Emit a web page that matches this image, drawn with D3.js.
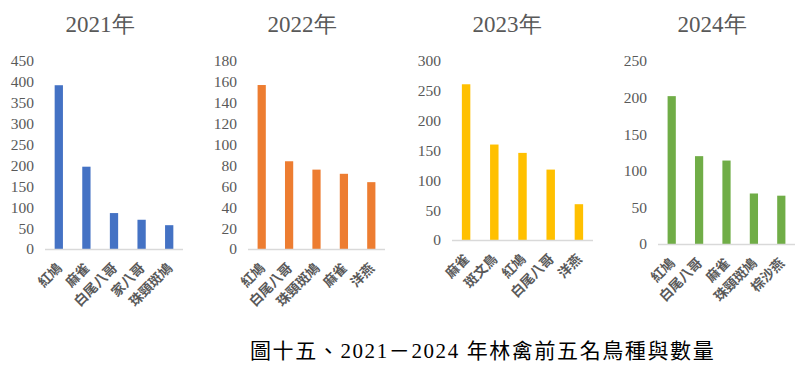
<!DOCTYPE html>
<html lang="zh-Hant">
<head>
<meta charset="UTF-8" />
<script src="https://d3js.org/d3.v7.min.js"></script>
<title>林禽前五名鳥種與數量</title>
<style>
  body { margin: 0; background: #fff; }
  svg text.num { font-family: "Liberation Serif", "DejaVu Serif", serif; fill: #595959; }
  svg text.cat { font-family: "Noto Sans CJK TC", sans-serif; font-weight: 700; fill: #595959; }
  svg text.cap { font-family: "Liberation Serif", "Noto Sans CJK TC", serif; fill: #000; }
</style>
</head>
<body>
<script>
const width = 800;
const height = 373;

// data
const years = ["2021年", "2022年", "2023年", "2024年"];

const birds2021 = ["紅鳩", "麻雀", "白尾八哥", "家八哥", "珠頸斑鳩"];
const count2021 = [392, 197, 86, 70, 57];

const birds2022 = ["紅鳩", "白尾八哥", "珠頸斑鳩", "麻雀", "洋燕"];
const count2022 = [157, 84, 76, 72, 64];

const birds2023 = ["麻雀", "斑文鳥", "紅鳩", "白尾八哥", "洋燕"];
const count2023 = [261, 160, 146, 118, 60];

const birds2024 = ["紅鳩", "白尾八哥", "麻雀", "珠頸斑鳩", "棕沙燕"];
const count2024 = [202, 120, 114, 69, 66];

const yMax = [450, 180, 300, 250];
const yStep = [50, 20, 50, 50];
const colors = ["#4472C4", "#ED7D31", "#FFC000", "#70AD47"];

const caption = "圖十五、2021－2024 年林禽前五名鳥種與數量";

// layout of the four small charts
const panels = [
  { x0: 45, x1: 183, top: 61, base: 249, titleX: 100 },
  { x0: 248, x1: 385, top: 61, base: 249, titleX: 302 },
  { x0: 452, x1: 593, top: 61, base: 240, titleX: 507 },
  { x0: 658, x1: 795, top: 61, base: 244, titleX: 712 }
];

const allBirds = [birds2021, birds2022, birds2023, birds2024];
const allCounts = [count2021, count2022, count2023, count2024];

const svg = d3.select("body").append("svg")
  .attr("width", width)
  .attr("height", height);

panels.forEach((p, k) => {
  const data = allBirds[k].map((b, i) => ({ name: b, value: allCounts[k][i] }));

  const x = d3.scaleBand()
    .domain(allBirds[k])
    .range([p.x0, p.x1])
    .paddingInner(0.7)
    .paddingOuter(0.35);

  const y = d3.scaleLinear()
    .domain([0, yMax[k]])
    .range([p.base, p.top]);

  const g = svg.append("g");

  // title
  g.append("text")
    .attr("class", "num")
    .attr("x", p.titleX)
    .attr("y", 32)
    .attr("text-anchor", "middle")
    .style("font-size", "23px")
    .text(years[k]);

  // y axis, labels only
  const yAxis = d3.axisLeft(y)
    .tickValues(d3.range(0, yMax[k] + 1, yStep[k]))
    .tickSize(0)
    .tickPadding(0);

  const ax = g.append("g")
    .attr("transform", `translate(${p.x0 - 11},0)`)
    .call(yAxis)
    .attr("font-family", null)
    .attr("font-size", null);
  ax.select(".domain").remove();
  ax.selectAll("text")
    .attr("class", "num")
    .attr("fill", null)
    .style("font-size", "15.5px");

  // bars
  g.selectAll("rect")
    .data(data)
    .enter()
    .append("rect")
    .attr("x", d => x(d.name))
    .attr("y", d => y(d.value))
    .attr("width", x.bandwidth())
    .attr("height", d => y(0) - y(d.value))
    .attr("fill", colors[k]);

  // baseline
  g.append("line")
    .attr("x1", p.x0)
    .attr("x2", p.x1)
    .attr("y1", y(0) + 0.5)
    .attr("y2", y(0) + 0.5)
    .attr("stroke", "#D9D9D9")
    .attr("stroke-width", 1.5);

  // category labels rotated
  g.selectAll(".cat")
    .data(data)
    .enter()
    .append("text")
    .attr("class", "cat")
    .attr("text-anchor", "end")
    .style("font-size", "13.5px")
    .attr("transform", d => `translate(${x(d.name) + x.bandwidth() / 2 + 4},${y(0) + 20}) rotate(-45)`)
    .text(d => d.name);
});

// caption below the charts
svg.append("text")
  .attr("class", "cap")
  .attr("x", 250)
  .attr("y", 358)
  .style("font-size", "21px")
  .style("letter-spacing", "1.6px")
  .text(caption);
</script>
</body>
</html>
